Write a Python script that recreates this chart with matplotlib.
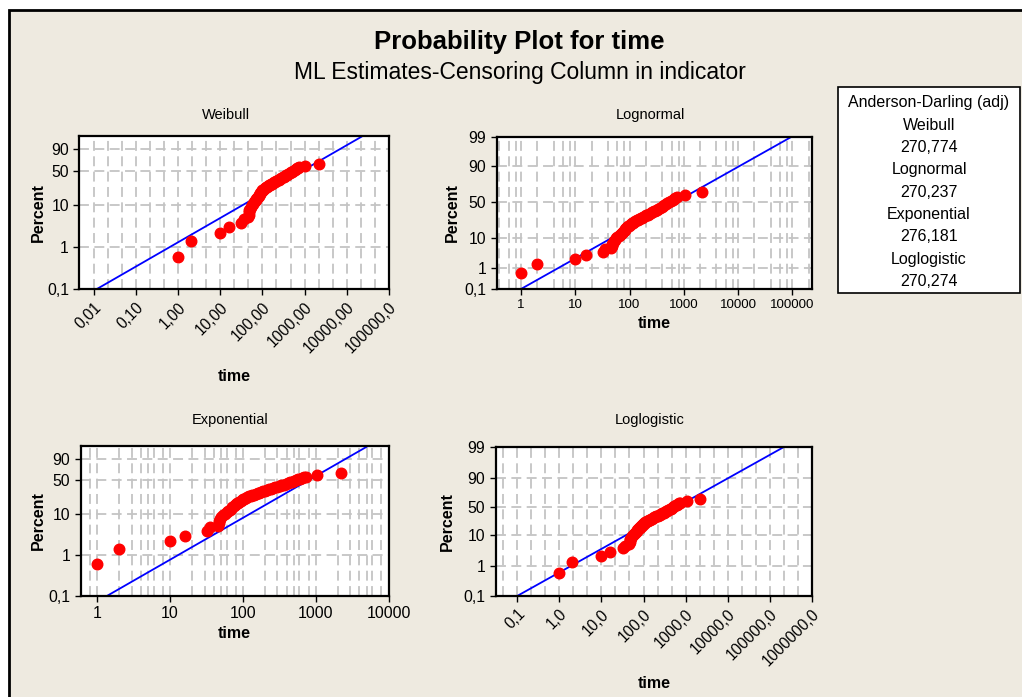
import math
import numpy as np
import matplotlib
matplotlib.use('Agg')
import matplotlib.pyplot as plt
from matplotlib.ticker import FixedLocator, FixedFormatter, NullFormatter, NullLocator
from matplotlib.patches import Rectangle

plt.rcParams['font.family'] = ['Liberation Sans', 'DejaVu Sans']

# failure times and plotted percents
time = [1, 2, 10, 16, 32, 36,
        46, 47, 48, 49, 51, 54, 57, 60, 63, 66, 69, 72, 75, 78, 81, 84, 87, 90, 94, 97, 100,
        105, 110, 116, 122, 128, 135, 142, 150, 160, 170, 180, 190, 200, 215, 230, 245, 260,
        280, 300, 320, 340, 365, 390, 415, 440, 470, 500,
        540, 580, 620, 660, 700, 740, 1050, 2200]
percent = [0.6, 1.4, 2.2, 3.0, 3.9, 4.7,
           5.2, 6.0, 6.8, 7.5, 8.3, 9.1, 9.9, 10.7, 11.5, 12.3, 13.1, 13.9, 14.7, 15.5, 16.3,
           17.1, 17.9, 18.7, 19.5, 20.3, 21.1,
           21.9, 22.7, 23.5, 24.3, 25.1, 25.9, 26.7, 27.5, 28.4, 29.3, 30.2, 31.1, 32.0, 33.0,
           34.0, 35.0, 36.0, 37.2, 38.4, 39.6, 40.8, 42.0, 43.3, 44.6, 45.9, 47.3, 48.8,
           50.5, 52.0, 53.5, 55.0, 56.5, 57.5, 60.5, 64.5]

# fitted lines: end points (time) at 0,1 % and 99 %
fit_p = [0.1, 99]
weibull_fit_t = [0.012, 22000]
lognormal_fit_t = [1.0, 95000]
exponential_fit_t = [1.37, 5000]
loglogistic_fit_t = [0.1, 215000]

weibull_xticks = [0.01, 0.1, 1, 10, 100, 1000, 10000, 100000]
weibull_xlabels = ['0,01', '0,10', '1,00', '10,00', '100,00', '1000,00', '10000,00', '100000,0']
lognormal_xticks = [1, 10, 100, 1000, 10000, 100000]
lognormal_xlabels = ['1', '10', '100', '1000', '10000', '100000']
exponential_xticks = [1, 10, 100, 1000, 10000]
exponential_xlabels = ['1', '10', '100', '1000', '10000']
loglogistic_xticks = [0.1, 1, 10, 100, 1000, 10000, 100000, 1000000]
loglogistic_xlabels = ['0,1', '1,0', '10,0', '100,0', '1000,0', '10000,0', '100000,0', '1000000,0']

yticks_short = [0.1, 1, 10, 50, 90]
ylabels_short = ['0,1', '1', '10', '50', '90']
yticks_long = [0.1, 1, 10, 50, 90, 99]
ylabels_long = ['0,1', '1', '10', '50', '90', '99']

ad_names = ['Weibull', 'Lognormal', 'Exponential', 'Loglogistic']
ad_values = ['270,774', '270,237', '276,181', '270,274']


# probability scales
def _q(p):
    return np.clip(np.asarray(p, dtype=float) / 100.0, 1e-9, 1 - 1e-9)


def sev_fwd(p):
    return np.log(-np.log(1 - _q(p)))


def sev_inv(u):
    return 100 * (1 - np.exp(-np.exp(np.asarray(u, dtype=float))))


A = [-3.969683028665376e+01, 2.209460984245205e+02, -2.759285104469687e+02,
     1.383577518672690e+02, -3.066479806614716e+01, 2.506628277459239e+00]
B = [-5.447609879822406e+01, 1.615858368580409e+02, -1.556989798598866e+02,
     6.680131188771972e+01, -1.328068155288572e+01]
C = [-7.784894002430293e-03, -3.223964580411365e-01, -2.400758277161838e+00,
     -2.549671348870066e+00, 4.374664141464968e+00, 2.938163982698783e+00]
D = [7.784695709041462e-03, 3.224671290700398e-01, 2.445134137142996e+00,
     3.754408661907416e+00]


def _ppf(q):
    if q < 0.02425:
        t = math.sqrt(-2 * math.log(q))
        return (((((C[0]*t+C[1])*t+C[2])*t+C[3])*t+C[4])*t+C[5]) / ((((D[0]*t+D[1])*t+D[2])*t+D[3])*t+1)
    if q > 1 - 0.02425:
        t = math.sqrt(-2 * math.log(1 - q))
        return -(((((C[0]*t+C[1])*t+C[2])*t+C[3])*t+C[4])*t+C[5]) / ((((D[0]*t+D[1])*t+D[2])*t+D[3])*t+1)
    r = q - 0.5
    s = r * r
    return (((((A[0]*s+A[1])*s+A[2])*s+A[3])*s+A[4])*s+A[5])*r / (((((B[0]*s+B[1])*s+B[2])*s+B[3])*s+B[4])*s+1)


def norm_fwd(p):
    return np.vectorize(_ppf, otypes=[float])(_q(p))


def norm_inv(z):
    return np.vectorize(lambda v: 50 * (1 + math.erf(v / math.sqrt(2))), otypes=[float])(np.asarray(z, dtype=float))


def logit_fwd(p):
    q = _q(p)
    return np.log(q / (1 - q))


def logit_inv(u):
    return 100 / (1 + np.exp(-np.asarray(u, dtype=float)))


fig = plt.figure(figsize=(10.22, 6.97), dpi=100, facecolor='white')
W, H = 1022.0, 697.0
bg = '#EEEAE0'
fig.patches.append(Rectangle((8.5 / W, -0.1), 1.2, 1 - 10 / H + 0.1, transform=fig.transFigure,
                             facecolor=bg, edgecolor='black', lw=2, zorder=-2))


def px_axes(left, top, right, bottom):
    return fig.add_axes([left / W, 1 - bottom / H, (right - left) / W, (bottom - top) / H])


def panel(box, name, title_xy, scale, xlim, ylim, xticks, xlabels, yticks, ylabels,
          fit_t, minor_mult, rotate, xlabel_y, ylabel_x, xtick_size):
    ax = px_axes(*box)
    ax.set_facecolor('white')
    ax.set_xscale('log')
    ax.set_yscale('function', functions=scale)
    ax.set_xlim(*xlim)
    ax.set_ylim(*ylim)

    ax.plot(fit_t, fit_p, color='#0000FF', lw=1.3, zorder=2)
    ax.plot(time, percent, 'o', color='#FF0000', ms=7.6, mec='#FF0000', zorder=3)

    minor = []
    for k in range(-4, 8):
        for m in minor_mult:
            minor.append(m * 10.0 ** k)
    ax.xaxis.set_major_locator(FixedLocator(xticks))
    ax.xaxis.set_major_formatter(FixedFormatter(xlabels))
    ax.xaxis.set_minor_locator(FixedLocator(minor))
    ax.xaxis.set_minor_formatter(NullFormatter())
    ax.yaxis.set_major_locator(FixedLocator(yticks))
    ax.yaxis.set_major_formatter(FixedFormatter(ylabels))
    ax.yaxis.set_minor_locator(NullLocator())

    ax.set_axisbelow(True)
    ax.grid(True, which='both', axis='x', color='#C4C4C4', lw=1.3, ls=(0, (5.5, 3)))
    ax.grid(True, which='major', axis='y', color='#C4C4C4', lw=1.3, ls=(0, (5.5, 3)))

    ax.tick_params(which='major', direction='out', length=4, width=1, colors='black')
    ax.tick_params(axis='y', labelsize=11.3)
    ax.tick_params(axis='x', labelsize=xtick_size)
    ax.tick_params(which='minor', length=0)
    if rotate:
        plt.setp(ax.get_xticklabels(), rotation=45, ha='right', rotation_mode='anchor')
    for s in ax.spines.values():
        s.set_linewidth(1.6)

    ax.set_xlabel('time', fontsize=11.5, fontweight='bold')
    ax.set_ylabel('Percent', fontsize=11.5, fontweight='bold')
    x0, y0, x1, y1 = box
    ax.xaxis.set_label_coords(0.5, -(xlabel_y - y1) / (y1 - y0))
    ax.yaxis.set_label_coords(-(x0 - ylabel_x) / (x1 - x0), 0.5)
    fig.text(title_xy[0] / W, 1 - title_xy[1] / H, name, ha='center', va='center', fontsize=10.5)
    return ax


panel((79.3, 136, 389, 289), 'Weibull', (226, 115), (sev_fwd, sev_inv), (0.0046, 1.0e5), (0.1, 99.2),
      weibull_xticks, weibull_xlabels, yticks_short, ylabels_short, weibull_fit_t,
      [2.15, 4.64], True, 369, 46, 11.2)
panel((496.7, 137, 812, 289), 'Lognormal', (650, 115), (norm_fwd, norm_inv), (0.357, 2.3e5), (0.1, 99),
      lognormal_xticks, lognormal_xlabels, yticks_long, ylabels_long, lognormal_fit_t,
      [2, 4, 6, 8], False, 316, 460, 9.6)
panel((80.7, 446, 388.5, 596), 'Exponential', (230, 420), (sev_fwd, sev_inv), (0.6, 1.0e4), (0.1, 99.2),
      exponential_xticks, exponential_xlabels, yticks_short, ylabels_short, exponential_fit_t,
      [2, 3, 4, 5, 6, 8], False, 626, 46, 11.5)
panel((495.7, 447, 812, 596), 'Loglogistic', (650, 420), (logit_fwd, logit_inv), (0.031, 1.0e6), (0.1, 99),
      loglogistic_xticks, loglogistic_xlabels, yticks_long, ylabels_long, loglogistic_fit_t,
      [2.15, 4.64], True, 676, 455, 11.2)

fig.text(519 / W, 1 - 42 / H, 'Probability Plot for time', ha='center', va='center',
         fontsize=18.5, fontweight='bold')
fig.text(520 / W, 1 - 73 / H, 'ML Estimates-Censoring Column in indicator', ha='center', va='center',
         fontsize=16.5)

# Anderson-Darling box
fig.patches.append(Rectangle((838 / W, 1 - 293 / H), 182 / W, 206 / H, transform=fig.transFigure,
                             facecolor='white', edgecolor='black', lw=1.2, zorder=-1))
rows = ['Anderson-Darling (adj)']
for n, v in zip(ad_names, ad_values):
    rows += [n, v]
for i, r in enumerate(rows):
    fig.text(929 / W, 1 - (103 + 22.3 * i) / H, r, ha='center', va='center', fontsize=11.5)

fig.savefig('out.png', dpi=100, facecolor=fig.get_facecolor())
